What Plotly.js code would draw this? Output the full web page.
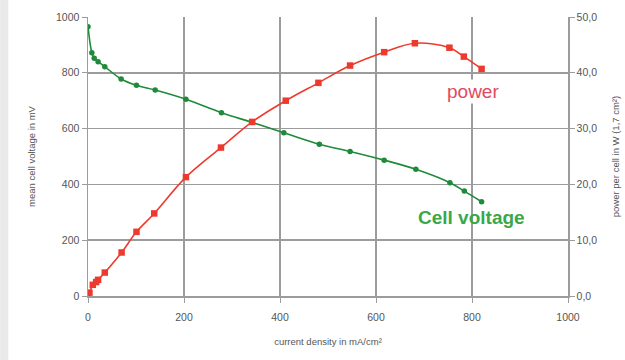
<!DOCTYPE html>
<html>
<head>
<meta charset="utf-8">
<script src="https://cdn.plot.ly/plotly-3.0.1.min.js"></script>
<style>html,body{margin:0;padding:0;background:#fff;}#chart{width:625px;height:360px;}</style>
</head>
<body>
<div id="chart"></div>
<script>
// Cell voltage (left axis, mV)
var voltageCurrent = [0, 8, 13, 21, 35, 69, 101, 140, 204, 278, 342, 408, 482, 546, 617, 683, 754, 784, 820];
var voltageValues  = [965, 872, 852, 840, 822, 778, 755, 738, 705, 657, 622, 585, 544, 518, 487, 454, 406, 376, 338];
// Power per cell (right axis, W)
var powerCurrent = [0, 3, 10, 17, 21, 35, 70, 101, 138, 204, 277, 342, 412, 480, 546, 617, 681, 753, 783, 820];
var powerValues  = [0, 0.6, 2.0, 2.5, 2.9, 4.2, 7.8, 11.5, 14.8, 21.3, 26.6, 31.2, 35.0, 38.2, 41.3, 43.7, 45.3, 44.5, 42.9, 40.7];

var xTicks = [0, 200, 400, 600, 800, 1000];
var yLeftTicks = [0, 200, 400, 600, 800, 1000];
var yRightTicks = [0, 10, 20, 30, 40, 50];
var yRightLabels = ["0,0", "10,0", "20,0", "30,0", "40,0", "50,0"];

var gridCol = "#9c9c9c";
var fam = "Liberation Sans, Arial, sans-serif";
var tickFont = {family: fam, size: 10.5, color: "#555"};
var titleFont = {family: fam, size: 9.5, color: "#555"};

var traces = [
  {
    x: voltageCurrent, y: voltageValues, type: "scatter", mode: "lines+markers",
    line: {color: "#1e8a3a", width: 1.6, shape: "spline"},
    marker: {symbol: "circle", size: 5.5, color: "#1e8a3a"},
    yaxis: "y", hoverinfo: "none"
  },
  {
    x: powerCurrent, y: powerValues, type: "scatter", mode: "lines+markers",
    line: {color: "#ee3a2e", width: 1.6, shape: "spline"},
    marker: {symbol: "square", size: 6.5, color: "#ee3a2e"},
    yaxis: "y2", hoverinfo: "none"
  }
];

var layout = {
  width: 625, height: 360,
  margin: {l: 88, r: 57, t: 17, b: 64},
  paper_bgcolor: "#fff", plot_bgcolor: "#fff",
  showlegend: false,
  xaxis: {
    range: [0, 1000], tickvals: xTicks, ticktext: xTicks.map(String),
    showgrid: true, gridcolor: gridCol, gridwidth: 1.5,
    showline: true, linecolor: gridCol, linewidth: 1.5,
    ticks: "outside", ticklen: 5, tickcolor: gridCol,
    ticklabelstandoff: 6,
    zeroline: false, tickfont: tickFont,
    title: {text: "current density in mA/cm²", font: titleFont, standoff: 16}
  },
  yaxis: {
    range: [0, 1000], tickvals: yLeftTicks, ticktext: yLeftTicks.map(String),
    showgrid: true, gridcolor: gridCol, gridwidth: 1.5,
    showline: true, linecolor: gridCol, linewidth: 1.5,
    ticks: "outside", ticklen: 5, tickcolor: gridCol,
    zeroline: false, tickfont: tickFont,
    title: {text: "mean cell voltage in mV", font: titleFont, standoff: 18}
  },
  yaxis2: {
    range: [0, 50], overlaying: "y", side: "right",
    tickvals: yRightTicks, ticktext: yRightLabels,
    showgrid: false, showline: true, linecolor: gridCol, linewidth: 1.5,
    ticks: "outside", ticklen: 5, tickcolor: gridCol,
    zeroline: false, tickfont: tickFont,
    title: {text: "power per cell in W (1,7 cm²)", font: titleFont, standoff: 16}
  },
  shapes: [
    {type: "rect", xref: "paper", yref: "paper", x0: -0.183, x1: -0.166, y0: -0.3, y1: 1.1, fillcolor: "#e9e9e9", line: {width: 0}, layer: "below"}
  ],
  annotations: [
    {x: 744, y: 36.6, xref: "x", yref: "y2", xanchor: "left", yanchor: "middle",
     text: "power", showarrow: false, bgcolor: "#fff",
     font: {family: fam, size: 19, color: "#e04a5e"}},
    {x: 684, y: 280, xref: "x", yref: "y", xanchor: "left", yanchor: "middle",
     text: "<b>Cell voltage</b>", showarrow: false,
     font: {family: fam, size: 19, color: "#3aa84a"}}
  ]
};

Plotly.newPlot("chart", traces, layout, {displayModeBar: false, staticPlot: true});
</script>
</body>
</html>
